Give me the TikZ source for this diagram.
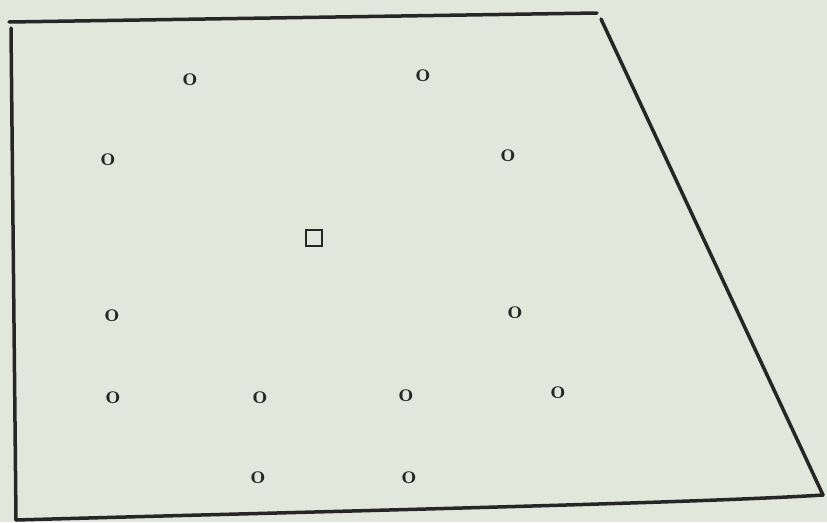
\documentclass[tikz,border=0pt]{standalone}
\begin{document}
\begin{tikzpicture}[x=1pt,y=-1pt,
  omark/.style={inner sep=0pt,text=black!85,font=\fontsize{26}{26}\selectfont\bfseries},
  sq/.style={draw=black!85,line width=1.8pt,minimum size=16pt,inner sep=0pt},
  border/.style={line width=3.5pt,black!85,line cap=round}]
\fill[fill={rgb,255:red,226;green,231;blue,220}] (0,0) rectangle (827,522);
\useasboundingbox (0,0) rectangle (827,522);
\coordinate (tl) at (9,22);
\coordinate (tr) at (597,13);
\coordinate (rt) at (601,19);
\coordinate (br) at (823,495);
\coordinate (bl) at (16,520);
\coordinate (lt) at (11,28);
\draw[border] (tl) -- (tr);
\draw[border] (rt) -- (br);
\draw[border] (br) .. controls (700,503) and (300,512) .. (bl);
\draw[border] (lt) -- (bl);
\node[omark] (o1) at (190,80) {o};
\node[omark] (o2) at (423,76) {o};
\node[omark] (o3) at (108,160) {o};
\node[omark] (o4) at (508,156) {o};
\node[sq] (s1) at (314,238) {};
\node[omark] (o5) at (112,316) {o};
\node[omark] (o6) at (515,313) {o};
\node[omark] (o7) at (113,398) {o};
\node[omark] (o8) at (260,398) {o};
\node[omark] (o9) at (406,396) {o};
\node[omark] (o10) at (558,393) {o};
\node[omark] (o11) at (258,478) {o};
\node[omark] (o12) at (409,478) {o};
\end{tikzpicture}
\end{document}
